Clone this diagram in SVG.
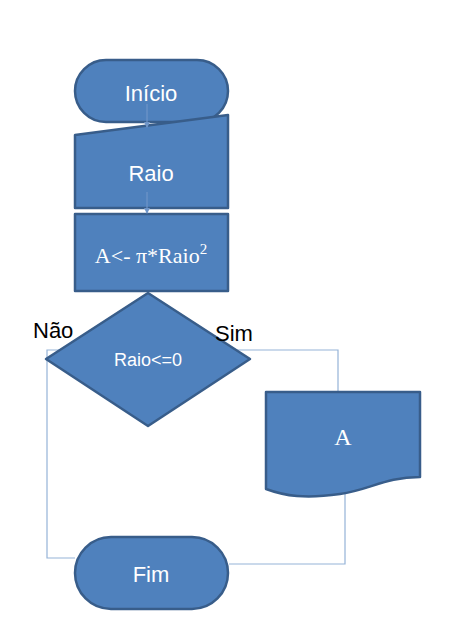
<svg xmlns="http://www.w3.org/2000/svg" width="455" height="628" viewBox="0 0 455 628">
<defs>
<style>
.shape{fill:#4f81bd;stroke:#385d8a;stroke-width:2.5;stroke-linejoin:round}
.lbl{fill:#ffffff;font-family:"Liberation Sans",Arial,sans-serif;font-size:22px;text-anchor:middle}
.ser{fill:#ffffff;font-family:"Liberation Serif","Times New Roman",serif;text-anchor:middle}
.blk{fill:#000000;font-family:"Liberation Sans",Arial,sans-serif;font-size:22px}
.conn{fill:none;stroke:#95b3d7;stroke-width:1.2}
.flow{fill:none;stroke:#6f95c8;stroke-width:1.2;marker-end:url(#ah)}
</style>
<marker id="ah" viewBox="0 0 6 6" refX="5" refY="3" markerWidth="5" markerHeight="5" orient="auto">
<path d="M0,0 L6,3 L0,6 Z" fill="#6f95c8"/>
</marker>
</defs>
<rect width="455" height="628" fill="#ffffff"/>
<g id="connectors">
<polyline class="conn" points="75,558 47,558 47,350 338,350 338,392"/>
<polyline class="conn" points="345,494 345,564 229,564"/>
</g>
<g id="inicio">
<rect class="shape" x="75" y="60" width="153" height="62" rx="31" ry="31"/>
<text class="lbl" x="151" y="101">Início</text>
</g>
<g id="raio">
<path class="shape" d="M75,135 L228,115 L228,208 L75,208 Z"/>
<text class="lbl" x="151" y="181">Raio</text>
</g>
<g id="calc">
<rect class="shape" x="75" y="214" width="153" height="77"/>
<text class="ser" x="151" y="263" font-size="22">A&lt;- π*Raio<tspan dy="-9" font-size="15">2</tspan></text>
</g>
<g id="decisao">
<path class="shape" d="M148,293 L250,359 L148,426 L46,359 Z"/>
<text class="lbl" x="148" y="366" style="font-size:18px">Raio&lt;=0</text>
</g>
<g id="saida">
<path class="shape" d="M266,392 H420 V477 C385,477 370,490 340,494 C305,499 285,496 266,489 Z"/>
<text class="ser" x="343" y="445" font-size="24">A</text>
</g>
<g id="fim">
<rect class="shape" x="75" y="537" width="153" height="72" rx="36" ry="36"/>
<text class="lbl" x="151" y="582">Fim</text>
</g>
<g id="flows">
<line class="flow" x1="147" y1="104" x2="147" y2="127"/>
<line class="flow" x1="147" y1="192" x2="147" y2="213"/>
</g>
<g id="labels">
<text class="blk" x="33" y="338">Não</text>
<text class="blk" x="215" y="341">Sim</text>
</g>
</svg>
